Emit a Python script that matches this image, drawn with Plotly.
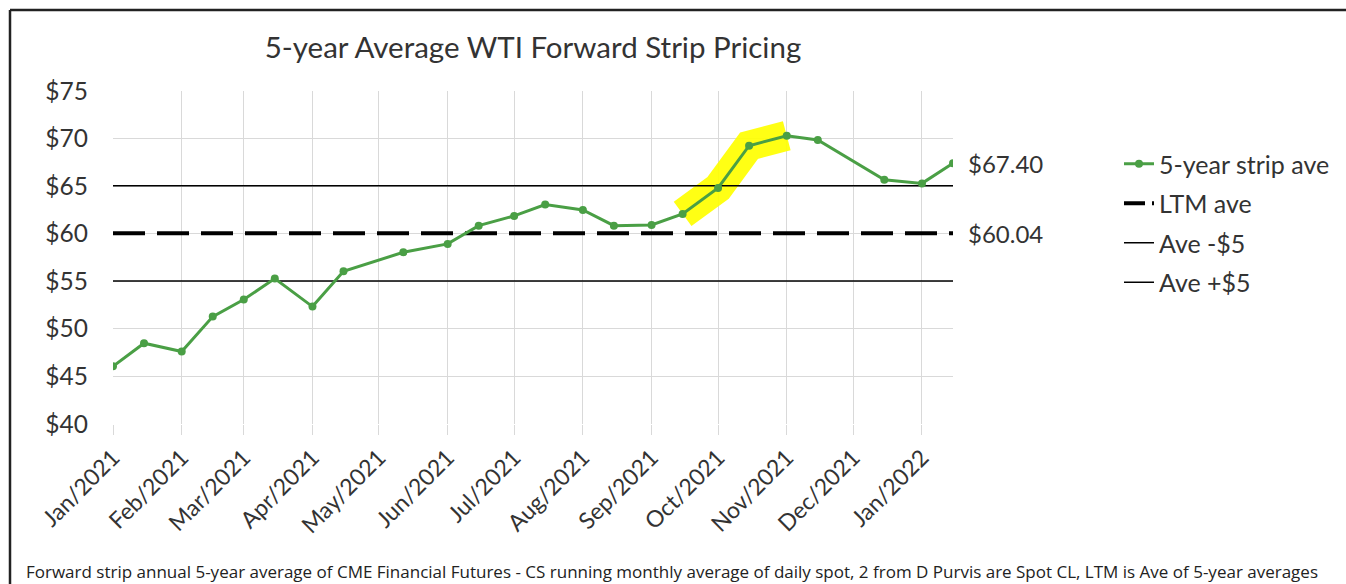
import plotly.graph_objects as go

# 5-year strip average (semi-monthly observations)
obs_dates = [
    "2021-01-01", "2021-01-15", "2021-02-01", "2021-02-15", "2021-03-01",
    "2021-03-15", "2021-04-01", "2021-04-15", "2021-05-12", "2021-06-01",
    "2021-06-15", "2021-07-01", "2021-07-15", "2021-08-01", "2021-08-15",
    "2021-09-01", "2021-09-15", "2021-10-01", "2021-10-15", "2021-11-01",
    "2021-11-15", "2021-12-15", "2022-01-01", "2022-01-15",
]
strip_ave = [
    46.07, 48.49, 47.62, 51.29, 53.08,
    55.28, 52.34, 56.05, 58.05, 58.93,
    60.85, 61.87, 63.06, 62.50, 60.85,
    60.92, 62.08, 64.81, 69.25, 70.30,
    69.85, 65.68, 65.29, 67.40,
]
LTM_AVE = 60.04
BAND = 5.0
# highlighted stretch: mid-September through November
hl_start, hl_end = 16, 19

axis_span = [obs_dates[0], obs_dates[-1]]

GREEN = "#4a9f45"
FONT = "Lato"
TXT = "#333333"
GRID = "#d9d9d9"

fig = go.Figure()

fig.add_trace(go.Scatter(
    x=obs_dates[hl_start:hl_end + 1], y=strip_ave[hl_start:hl_end + 1],
    mode="lines", line=dict(color="rgba(255,255,0,0.92)", width=30),
    showlegend=False, hoverinfo="skip",
))

fig.add_trace(go.Scatter(
    x=axis_span, y=[LTM_AVE - BAND] * 2, mode="lines",
    line=dict(color="black", width=1.5), name="Ave -$5",
    legendgroup="lo", legendrank=3,
))
fig.add_trace(go.Scatter(
    x=axis_span, y=[LTM_AVE + BAND] * 2, mode="lines",
    line=dict(color="black", width=1.5), name="Ave +$5",
    legendgroup="hi", legendrank=4,
))
fig.add_trace(go.Scatter(
    x=axis_span, y=[LTM_AVE] * 2, mode="lines",
    line=dict(color="black", width=4, dash="32px,12px"),
    showlegend=False, legendgroup="ltm",
))
# legend key for the LTM line (short dash + dot, as in the spreadsheet key)
fig.add_trace(go.Scatter(
    x=[None], y=[None], mode="lines",
    line=dict(color="black", width=4, dash="21px,7px,3px,20px"),
    name="LTM ave", legendgroup="ltm", legendrank=2,
))
fig.add_trace(go.Scatter(
    x=obs_dates, y=strip_ave, mode="lines+markers",
    line=dict(color=GREEN, width=3),
    marker=dict(color=GREEN, size=8),
    name="5-year strip ave", legendgroup="strip", legendrank=1,
))

# value labels at the right edge
for val in (strip_ave[-1], LTM_AVE):
    fig.add_annotation(
        x=obs_dates[-1], y=val, xref="x", yref="y",
        text=f"${val:.2f}", showarrow=False, xanchor="left", yanchor="middle",
        xshift=13, font=dict(family=FONT, size=24, color=TXT),
    )

# plot-area geometry in pixels, used to place frame and footer
W, H = 1346, 584
L, R, T, B = 113, 393, 91, 160
pw, ph = W - L - R, H - T - B


def px_x(p):
    return (p - L) / pw


def px_y(p):
    return (H - B - p) / ph


# outer frame: left and top edges of the chart box
frame = dict(color="#222222", width=2.5)
fig.add_shape(type="line", xref="paper", yref="paper",
              x0=px_x(10), x1=px_x(10), y0=px_y(H + 10), y1=px_y(10),
              line=frame, layer="above")
fig.add_shape(type="line", xref="paper", yref="paper",
              x0=px_x(10), x1=px_x(W + 10), y0=px_y(10), y1=px_y(10),
              line=frame, layer="above")

fig.add_annotation(
    xref="paper", yref="paper", x=px_x(24), y=px_y(571),
    xanchor="left", yanchor="middle", showarrow=False,
    text=("Forward strip annual 5-year average of CME Financial Futures - "
          "CS running monthly average of daily spot, 2 from D Purvis are "
          "Spot CL, LTM is Ave of 5-year averages"),
    font=dict(family="Open Sans", size=17, color="#222222"),
)

fig.update_layout(
    width=W, height=H,
    margin=dict(l=L, r=R, t=T, b=B, autoexpand=False),
    paper_bgcolor="white", plot_bgcolor="white",
    title=dict(
        text="5-year Average WTI Forward Strip Pricing",
        xref="paper", x=0.5, xanchor="center",
        yref="container", y=1 - 48 / H, yanchor="middle",
        font=dict(family=FONT, size=29.5, color=TXT),
    ),
    legend=dict(
        x=px_x(1119), xanchor="left", y=px_y(141), yanchor="top",
        font=dict(family=FONT, size=25, color=TXT),
        tracegroupgap=4, bgcolor="rgba(0,0,0,0)",
        traceorder="grouped",
    ),
    xaxis=dict(
        type="date", range=axis_span,
        tick0="2021-01-01", dtick="M1", tickformat="%b/%Y",
        tickangle=-45, ticks="outside", ticklen=10, tickcolor=GRID,
        showgrid=True, gridcolor=GRID, gridwidth=1,
        showline=False, zeroline=False,
        tickfont=dict(family=FONT, size=23, color=TXT),
    ),
    yaxis=dict(
        range=[40, 75], dtick=5, tickprefix="$",
        showgrid=True, gridcolor=GRID, gridwidth=1,
        showline=False, zeroline=False, ticks="",
        ticklabelstandoff=24,
        tickfont=dict(family=FONT, size=24.5, color=TXT),
    ),
    hovermode=False,
)

fig.write_html("out.html")
